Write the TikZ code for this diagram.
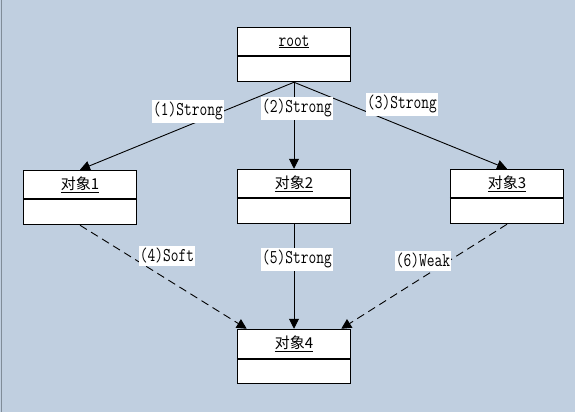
\documentclass[tikz,border=0pt]{standalone}
\usepackage{fontspec}
\newfontfamily\cjk{Noto Sans CJK SC}
\usetikzlibrary{arrows.meta}
\definecolor{bgblue}{RGB}{192,207,224}
\definecolor{edgegray}{RGB}{128,140,152}
\newcommand\tallword[1]{\scalebox{1}[1.3]{#1}}
\tikzset{
  objbox/.style={shape=rectangle,draw=black,fill=white,line width=1.5pt,minimum width=113pt,minimum height=54pt,inner sep=0pt},
  objname/.style={inner sep=0pt,font=\cjk\fontsize{15}{18}\selectfont},
  divider/.style={line width=1.5pt},
  ref/.style={-{Triangle[length=10pt,width=10pt]},line width=0.9pt},
  weakref/.style={ref,dash pattern=on 8pt off 5pt},
  reflabel/.style={fill=white,inner xsep=1pt,inner ysep=2.5pt,font=\ttfamily\fontsize{15}{18}\selectfont},
}
\begin{document}
\begin{tikzpicture}[x=1pt,y=-1pt]
\useasboundingbox (0,0) rectangle (575,412);
\fill[bgblue] (0,0) rectangle (575,412);
\draw[edgegray,line width=1pt] (1.5,0) -- (1.5,412);

% objects
\node[objbox] (root) at (294,54.5) {};
\node[objname,font=\ttfamily\fontsize{15}{18}\selectfont] (rootname) at ([yshift=-15pt]root.north) {\underline{\tallword{root}}};
\draw[divider] ([yshift=-29.5pt]root.north west) -- ([yshift=-29.5pt]root.north east);

\node[objbox] (o1) at (80,197.5) {};
\node[objname] (o1name) at ([yshift=-15pt]o1.north) {\underline{对象1}};
\draw[divider] ([yshift=-29pt]o1.north west) -- ([yshift=-29pt]o1.north east);

\node[objbox] (o2) at (294,196.5) {};
\node[objname] (o2name) at ([yshift=-15pt]o2.north) {\underline{对象2}};
\draw[divider] ([yshift=-29pt]o2.north west) -- ([yshift=-29pt]o2.north east);

\node[objbox] (o3) at (507,196.5) {};
\node[objname] (o3name) at ([yshift=-15pt]o3.north) {\underline{对象3}};
\draw[divider] ([yshift=-29pt]o3.north west) -- ([yshift=-29pt]o3.north east);

\node[objbox] (o4) at (294,356.5) {};
\node[objname] (o4name) at ([yshift=-15pt]o4.north) {\underline{对象4}};
\draw[divider] ([yshift=-30pt]o4.north west) -- ([yshift=-30pt]o4.north east);

\coordinate (o4left) at ([xshift=10pt]o4.north west);
\coordinate (o4right) at ([xshift=-10pt]o4.north east);

% references
\draw[ref] (root.south) -- (o1.north);
\draw[ref] (root.south) -- (o2.north);
\draw[ref] (root.south) -- (o3.north);
\draw[weakref] (o1.south) -- (o4left);
\draw[ref] (o2.south) -- (o4.north);
\draw[weakref] (o3.south) -- (o4right);

% labels
\node[reflabel] (l1) at (188,111) {\tallword{(1)Strong}};
\node[reflabel] (l2) at (297,108) {\tallword{(2)Strong}};
\node[reflabel] (l3) at (402,104) {\tallword{(3)Strong}};
\node[reflabel] (l4) at (167,256) {\tallword{(4)Soft}};
\node[reflabel] (l5) at (297,259) {\tallword{(5)Strong}};
\node[reflabel] (l6) at (423,261) {\tallword{(6)Weak}};
\end{tikzpicture}
\end{document}
